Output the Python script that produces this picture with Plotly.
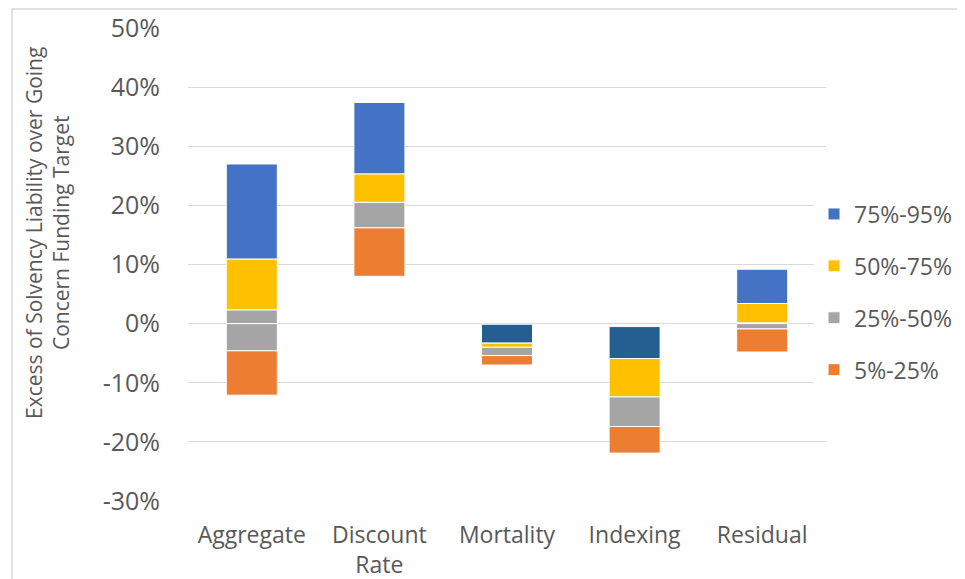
import plotly.graph_objects as go

categories = ["Aggregate", "Discount<br>Rate", "Mortality", "Indexing", "Residual"]
# percentile boundaries (in %): 5th, 25th, 50th, 75th, 95th
p5 = [-12.1, 8.0, -7.0, -21.9, -4.8]
p25 = [-4.6, 16.2, -5.4, -17.4, -0.9]
p50 = [2.3, 20.5, -4.0, -12.4, 0.1]
p75 = [10.9, 25.3, -3.3, -5.9, 3.4]
p95 = [27.0, 37.4, -0.1, -0.5, 9.2]

band_names = ["5%-25%", "25%-50%", "50%-75%", "75%-95%"]
band_pos_colors = ["#ED7D31", "#A5A5A5", "#FFC000", "#4472C4"]
band_neg_colors = ["#ED7D31", "#A5A5A5", "#FFC000", "#255E91"]
bounds = [p5, p25, p50, p75, p95]
tick_vals = [-30, -20, -10, 0, 10, 20, 30, 40, 50]

FONT = "Open Sans"
GREY = "#595959"

fig = go.Figure()
for i in reversed(range(len(band_names))):
    name = band_names[i]
    lo = [v / 100 for v in bounds[i]]
    hi = [v / 100 for v in bounds[i + 1]]
    pb, ph, nb, nh = [], [], [], []
    for a, b in zip(lo, hi):
        b0, t0 = max(a, 0), max(b, 0)
        pb.append(b0)
        ph.append(t0 - b0 if t0 - b0 > 0 else None)
        b1, t1 = min(a, 0), min(b, 0)
        nb.append(b1)
        nh.append(t1 - b1 if t1 - b1 > 0 else None)
    fig.add_trace(go.Bar(x=categories, y=ph, base=pb, name=name,
                         marker=dict(color=band_pos_colors[i], line=dict(color="white", width=1)),
                         width=0.4, legendgroup=name, showlegend=True))
    fig.add_trace(go.Bar(x=categories, y=nh, base=nb, name=name,
                         marker=dict(color=band_neg_colors[i], line=dict(color="white", width=1)),
                         width=0.4, legendgroup=name, showlegend=False))

W, H = 957, 571
L, R, T, B = 180, 139, 20, 78
pw, ph_ = W - L - R, H - T - B

fig.update_layout(
    width=W, height=H,
    barmode="overlay",
    plot_bgcolor="white", paper_bgcolor="white",
    margin=dict(l=L, r=R, t=T, b=B, autoexpand=False),
    font=dict(family=FONT, color=GREY),
    xaxis=dict(tickfont=dict(size=23, color=GREY), showline=False, ticks="",
               automargin=False, ticklabelstandoff=18),
    yaxis=dict(range=[-0.30, 0.50], tickvals=[v / 100 for v in tick_vals],
               ticktext=[f"{v}%" for v in tick_vals], tickfont=dict(size=25, color=GREY),
               showgrid=True, gridcolor="#D9D9D9", gridwidth=1, zeroline=False,
               ticks="", ticklen=0, automargin=False, ticklabelstandoff=27),
    legend=dict(traceorder="grouped", xref="container", yref="container",
                x=806 / W, y=1 - 284 / H, yanchor="middle", xanchor="left",
                font=dict(size=23, color=GREY), tracegroupgap=19, itemwidth=30),
    showlegend=True,
    annotations=[dict(text="Excess of Solvency Liability over Going<br>Concern Funding Target",
                      xref="paper", yref="paper", x=(39 - L) / pw, y=(493 - 225) / ph_, textangle=-90,
                      showarrow=False, font=dict(size=21, color=GREY), xanchor="center", yanchor="middle")],
    shapes=[dict(type="rect", xref="paper", yref="paper",
                 x0=(4 - L) / pw, x1=2, y0=-1, y1=(T + ph_ - 1) / ph_,
                 line=dict(color="#D9D9D9", width=1.5), fillcolor="rgba(0,0,0,0)", layer="below")],
)
fig.write_html("out.html")
